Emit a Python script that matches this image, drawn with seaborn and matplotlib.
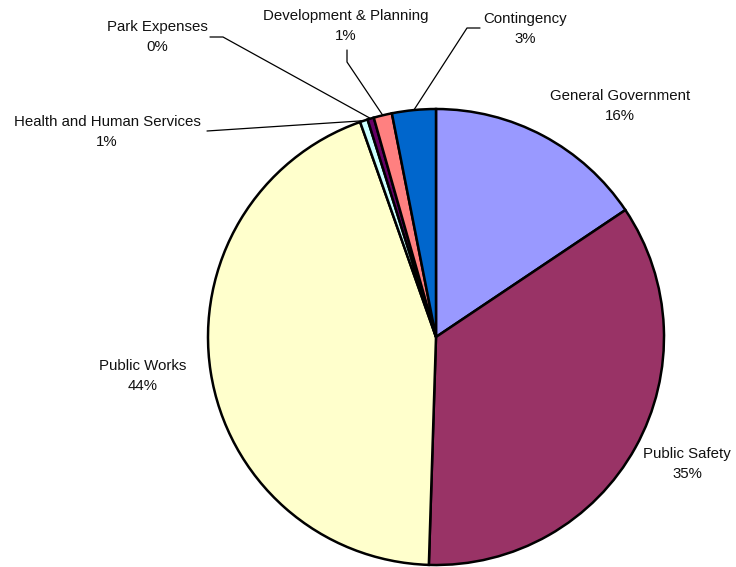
import numpy as np
import matplotlib
matplotlib.use("Agg")
import matplotlib.pyplot as plt
import seaborn as sns

# -------------------------------
# Data
# -------------------------------
categories = ["General Government", "Public Safety", "Public Works",
              "Health and Human Services", "Park Expenses",
              "Development & Planning", "Contingency"]
shares = [15.6, 34.9, 44.1, 0.55, 0.45, 1.3, 3.1]
colors = ["#9999FF", "#993366", "#FFFFCC", "#CCFFFF", "#660066", "#FF8080", "#0066CC"]

sns.set_style("white")
plt.rcParams['font.family'] = ['Liberation Sans', 'DejaVu Sans']

# pixel layout of the picture (centre and radius of the pie)
CX, CY, R = 436, 337, 228
W, H = 736, 567


def px(x, y):
    return (x - CX) / R, (CY - y) / R


fig = plt.figure(figsize=(W / 100, H / 100), dpi=100)
ax = fig.add_axes([0, 0, 1, 1])
wedges, _ = ax.pie(shares, colors=colors, startangle=90, counterclock=False,
                   radius=1, center=(0, 0),
                   wedgeprops=dict(edgecolor="black", linewidth=1.8))
ax.set_xlim(px(0, 0)[0], px(W, 0)[0])
ax.set_ylim(px(0, H)[1], px(0, 0)[1])
ax.set_aspect("auto")
ax.axis("off")

total = sum(shares)
pcts = [f"{round(v / total * 100):.0f}%" for v in shares]

# label centres (pixels) and leader elbows / ends (pixels)
label_pos = {
    "General Government": (620, 106),
    "Public Safety": (687, 464),
    "Public Works": (143, 376),
    "Health and Human Services": (107, 132),
    "Park Expenses": (157, 37),
    "Development & Planning": (346, 26),
    "Contingency": (525, 29),
}
leaders = {
    "Health and Human Services": [(207, 131)],
    "Park Expenses": [(223, 37), (210, 37)],
    "Development & Planning": [(347, 62), (347, 50)],
    "Contingency": [(467, 28), (480, 28)],
}

for w, name, pct in zip(wedges, categories, pcts):
    lx, ly = px(*label_pos[name])
    ax.text(lx, ly, f"{name}\n{pct}", ha="center", va="center",
            fontsize=10.8, color="#111111", linespacing=1.5)
    if name in leaders:
        mid = np.deg2rad((w.theta1 + w.theta2) / 2)
        xs = [np.cos(mid)]
        ys = [np.sin(mid)]
        for p in leaders[name]:
            dx, dy = px(*p)
            xs.append(dx)
            ys.append(dy)
        ax.plot(xs, ys, color="black", linewidth=0.9, zorder=0.5)

plt.savefig("out.png", dpi=100)
